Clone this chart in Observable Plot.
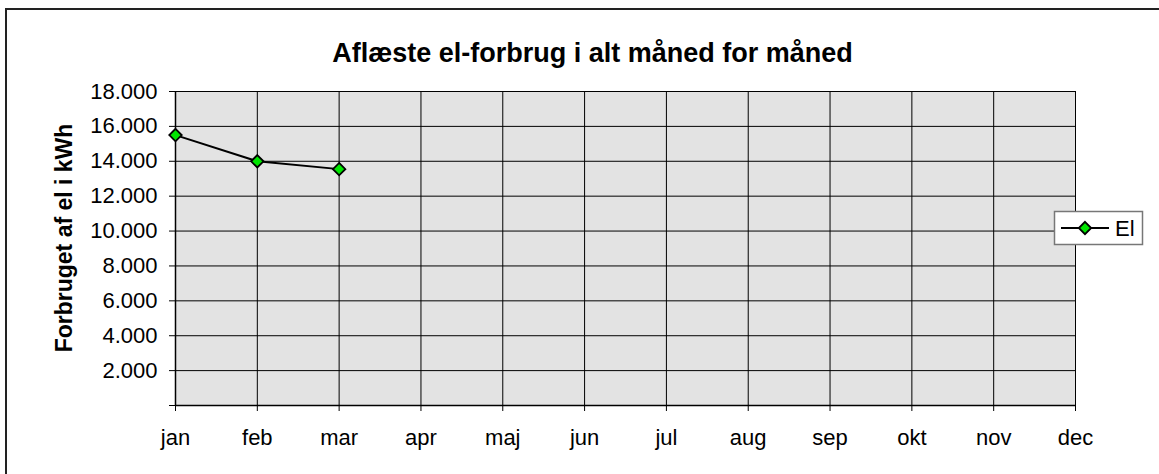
<!DOCTYPE html>
<html>
<head>
<meta charset="utf-8">
<script src="https://cdn.jsdelivr.net/npm/d3@7"></script>
<script src="https://cdn.jsdelivr.net/npm/@observablehq/plot@0.6"></script>
<style>
  html, body { margin: 0; padding: 0; background: #fff; }
  #wrap { position: relative; width: 1159px; height: 474px; overflow: hidden; font-family: "Liberation Sans", Arial, sans-serif; }
  #border { position: absolute; left: 5px; top: 8px; width: 1200px; height: 600px; border-top: 2px solid #222; border-left: 2px solid #222; box-sizing: border-box; }
  #title { position: absolute; left: 0; top: 40px; width: 1185px; text-align: center; font-size: 27px; line-height: 27px; font-weight: bold; color: #000; white-space: nowrap; }
  #chart { position: absolute; left: 0; top: 0; }
  #overlay { position: absolute; left: 0; top: 0; pointer-events: none; }
</style>
</head>
<body>
<div id="wrap">
  <div id="border"></div>
  <div id="chart"></div>
  <div id="title"></div>
  <svg id="overlay" width="1159" height="474"></svg>
</div>
<script>
const titleText = "Aflæste el-forbrug i alt måned for måned";
const yAxisTitle = "Forbruget af el i kWh";
const seriesName = "El";
const months = ["jan", "feb", "mar", "apr", "maj", "jun", "jul", "aug", "sep", "okt", "nov", "dec"];
const elMonths = ["jan", "feb", "mar"];
const elValues = [15500, 14000, 13550];
const yTicks = [0, 2000, 4000, 6000, 8000, 10000, 12000, 14000, 16000, 18000];
const yTickLabels = ["", "2.000", "4.000", "6.000", "8.000", "10.000", "12.000", "14.000", "16.000", "18.000"];

const data = elMonths.map((m, i) => ({month: m, value: elValues[i]}));
const markerFill = "#00e600";
const markerR = 5.6;

const plot = Plot.plot({
  width: 1159,
  height: 474,
  marginLeft: 175,
  marginRight: 84,
  marginTop: 91,
  marginBottom: 69,
  style: {fontFamily: "'Liberation Sans', Arial, sans-serif", fontSize: "22px", color: "#000", background: "transparent"},
  x: {type: "point", domain: months, padding: 0, round: false},
  y: {domain: [0, 18000]},
  marks: [
    Plot.frame({fill: "#e3e3e3", stroke: null}),
    Plot.gridX(months, {stroke: "#000", strokeOpacity: 1, strokeWidth: 1}),
    Plot.gridY(yTicks, {stroke: "#000", strokeOpacity: 1, strokeWidth: 1}),
    Plot.ruleY([0], {stroke: "#000", strokeWidth: 1.5}),
    Plot.ruleX(["jan"], {stroke: "#000", strokeWidth: 1.5}),
    Plot.axisY(yTicks, {tickSize: 6, tickPadding: 12, tickFormat: (d) => yTickLabels[yTicks.indexOf(d)], label: null, fontSize: 22, stroke: "#000"}),
    Plot.axisX(months, {tickSize: 6, tickPadding: 18, label: null, fontSize: 22, stroke: "#000"}),
    Plot.line(data, {x: "month", y: "value", stroke: "#000", strokeWidth: 2}),
    Plot.dot(data, {x: "month", y: "value", symbol: "diamond2", r: markerR, fill: markerFill, stroke: "#000", strokeWidth: 1.8})
  ]
});
document.getElementById("chart").appendChild(plot);
document.getElementById("title").textContent = titleText;

const ov = d3.select("#overlay");
// y axis title
ov.append("text")
  .attr("transform", "translate(72,238) rotate(-90)")
  .attr("text-anchor", "middle")
  .attr("font-family", "'Liberation Sans', Arial, sans-serif")
  .attr("font-size", 23)
  .attr("font-weight", "bold")
  .attr("fill", "#000")
  .text(yAxisTitle);

// legend
const lg = ov.append("g").attr("transform", "translate(1054,211)");
lg.append("rect").attr("x", 0.5).attr("y", 0.5).attr("width", 88).attr("height", 33)
  .attr("fill", "#fff").attr("stroke", "#777").attr("stroke-width", 1.5);
lg.append("line").attr("x1", 7).attr("x2", 55).attr("y1", 17).attr("y2", 17).attr("stroke", "#000").attr("stroke-width", 2);
lg.append("path").attr("transform", "translate(31,17)")
  .attr("d", d3.symbol(d3.symbolDiamond2, Math.PI * markerR * markerR)())
  .attr("fill", markerFill).attr("stroke", "#000").attr("stroke-width", 1.8);
lg.append("text").attr("x", 61).attr("y", 25)
  .attr("font-family", "'Liberation Sans', Arial, sans-serif")
  .attr("font-size", 22).attr("fill", "#000").text(seriesName);
</script>
</body>
</html>
